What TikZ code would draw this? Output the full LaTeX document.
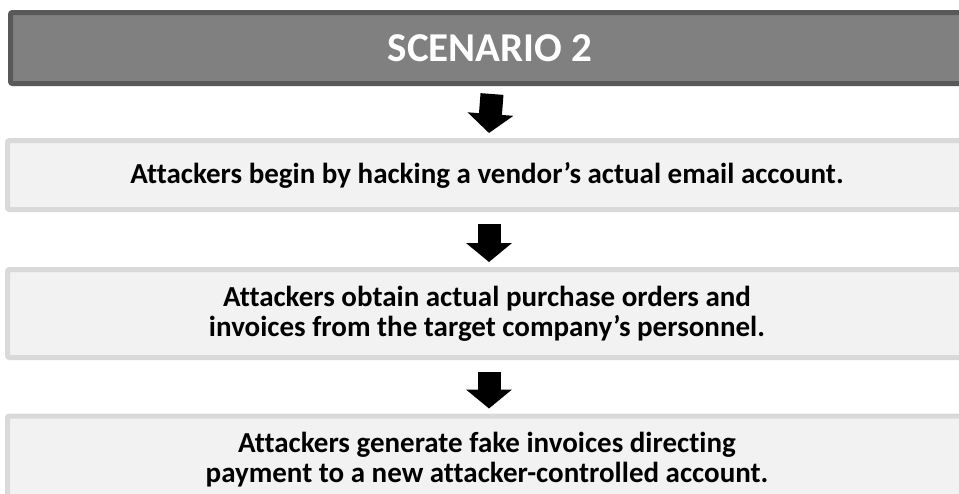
\documentclass[tikz,border=0pt]{standalone}
\usepackage{fontspec}
\setmainfont[Ligatures=NoCommon]{Carlito}
\usetikzlibrary{positioning,arrows.meta}

\begin{document}
\begin{tikzpicture}[
  x=1pt, y=1pt,
  title/.style={rectangle, draw=black!65, line width=5pt, fill=black!50,
                rounded corners=2pt, minimum width=959pt, minimum height=71pt,
                text=white, font=\fontsize{41}{45}\selectfont\bfseries, inner sep=0pt},
  stepbox/.style={rectangle, draw=black!15, line width=5pt, fill=black!5,
                  rounded corners=2pt, minimum width=959pt, inner sep=0pt,
                  font=\fontsize{29}{30}\selectfont\bfseries, align=center},
  arr/.style={-{Triangle[width=45pt, length=19pt]}, line width=23pt, black}
]
\useasboundingbox (0,0) rectangle (959,-493);
\clip (0,0) rectangle (959,-493);

\node[title] (S) at (490,-48) {SCENARIO 2};

\node[stepbox, minimum height=69pt] (A) at (487,-175)
  {Attackers begin by hacking a vendor’s actual email account.};
\node[stepbox, minimum height=88pt] (B) at (487,-313.5)
  {Attackers obtain actual purchase orders and\\invoices from the target company’s personnel.};
\node[stepbox, minimum height=88pt] (C) at (487,-460)
  {Attackers generate fake invoices directing\\payment to a new attacker-controlled account.};

% block arrows between the boxes
\draw[arr] ([xshift=2pt, yshift=-8pt]S.south) -- ([xshift=2pt, yshift=5pt]A.north);
\draw[arr] ([xshift=2pt, yshift=-12pt]A.south) -- ([xshift=2pt, yshift=5pt]B.north);
\draw[arr] ([xshift=2pt, yshift=-12pt]B.south) -- ([xshift=2pt, yshift=5pt]C.north);

\end{tikzpicture}
\end{document}
